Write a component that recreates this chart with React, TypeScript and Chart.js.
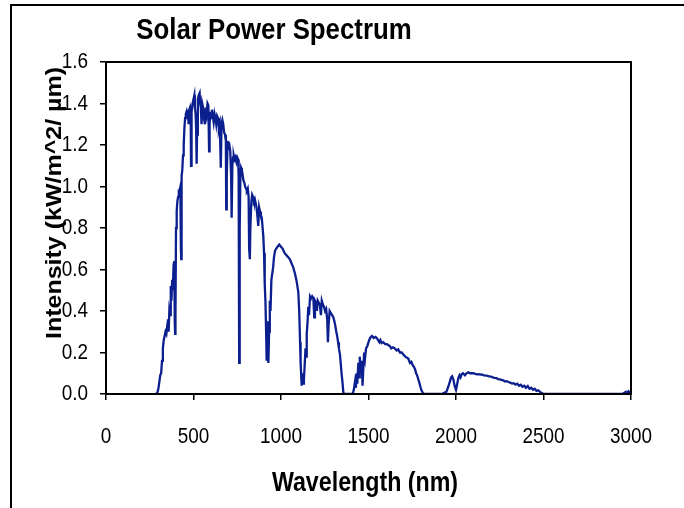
import React, { useEffect, useRef } from "react";
import { Chart, registerables } from "chart.js";

Chart.register(...registerables);

const TITLE = "Solar Power Spectrum";
const X_TITLE = "Wavelength (nm)";
const Y_TITLE = "Intensity (kW/m^2/ µm)";
const X_TICKS = [0, 500, 1000, 1500, 2000, 2500, 3000];
const Y_TICKS = [0, 0.2, 0.4, 0.6, 0.8, 1.0, 1.2, 1.4, 1.6];

const wavelength = [
  280, 290, 295, 300, 305, 310, 315, 320, 325, 330, 335, 340, 345, 350, 355, 358, 362, 366, 370, 374,
  378, 382, 386, 390, 393, 395, 397, 400, 404, 408, 412, 416, 420, 425, 428, 430, 432, 436, 440, 444,
  448, 452, 456, 460, 464, 468, 472, 476, 480, 484, 486, 488, 490, 495, 500, 505, 508, 512, 515, 518,
  520, 525, 530, 535, 538, 542, 546, 550, 555, 560, 565, 570, 575, 580, 585, 589, 592, 596, 600, 605,
  610, 615, 620, 625, 630, 635, 640, 645, 650, 656, 660, 665, 670, 675, 680, 685, 687, 690, 695, 700,
  705, 710, 715, 718, 722, 726, 730, 735, 740, 745, 750, 755, 758, 761, 763, 765, 768, 772, 776, 780,
  785, 790, 795, 800, 805, 810, 815, 818, 822, 825, 830, 835, 840, 845, 850, 855, 860, 865, 870, 875,
  880, 885, 890, 895, 899, 903, 907, 911, 915, 918, 922, 925, 928, 932, 936, 940, 945, 950, 955, 960,
  966, 972, 980, 990, 1000, 1010, 1020, 1030, 1040, 1050, 1060, 1070, 1080, 1090, 1099, 1104, 1109, 1112, 1116, 1118,
  1122, 1126, 1131, 1136, 1140, 1144, 1147, 1152, 1156, 1160, 1166, 1172, 1178, 1185, 1190, 1194, 1200, 1205, 1210, 1216,
  1222, 1228, 1233, 1240, 1246, 1252, 1258, 1264, 1268, 1272, 1278, 1285, 1292, 1299, 1305, 1310, 1316, 1321, 1326, 1331,
  1337, 1342, 1346, 1351, 1356, 1360, 1410, 1416, 1423, 1428, 1432, 1436, 1442, 1446, 1450, 1455, 1461, 1466, 1470, 1475,
  1480, 1486, 1493, 1500, 1509, 1520, 1530, 1540, 1547, 1555, 1562, 1568, 1575, 1585, 1595, 1605, 1615, 1623, 1630, 1640,
  1650, 1661, 1670, 1680, 1690, 1699, 1710, 1720, 1728, 1737, 1745, 1752, 1760, 1766, 1772, 1778, 1785, 1792, 1798, 1804,
  1814, 1920, 1930, 1945, 1956, 1965, 1972, 1978, 1985, 1992, 2000, 2006, 2013, 2020, 2026, 2032, 2040, 2051, 2060, 2070,
  2080, 2090, 2099, 2110, 2120, 2130, 2140, 2150, 2160, 2175, 2190, 2200, 2210, 2220, 2230, 2240, 2250, 2260, 2270, 2280,
  2290, 2300, 2310, 2320, 2330, 2340, 2350, 2360, 2370, 2380, 2390, 2400, 2410, 2420, 2430, 2440, 2450, 2460, 2470, 2480,
  2490, 2500, 2950, 2960, 2970, 2975, 2985, 2990, 3000,
];

const intensity = [
  0, 0, 0.01, 0.03, 0.06, 0.09, 0.1, 0.16, 0.22, 0.26, 0.28, 0.3, 0.29, 0.33, 0.36, 0.3, 0.4, 0.38, 0.52, 0.45,
  0.55, 0.5, 0.62, 0.64, 0.35, 0.29, 0.38, 0.8, 0.88, 0.93, 0.95, 0.98, 0.98, 1.0, 0.7, 0.65, 1.05, 1.08, 1.15, 1.2,
  1.28, 1.33, 1.35, 1.36, 1.33, 1.37, 1.3, 1.37, 1.38, 1.34, 1.1, 1.15, 1.36, 1.4, 1.42, 1.44, 1.38, 1.35, 1.28, 1.11,
  1.25, 1.42, 1.44, 1.45, 1.4, 1.38, 1.3, 1.4, 1.38, 1.33, 1.3, 1.38, 1.35, 1.4, 1.39, 1.17, 1.3, 1.36, 1.33, 1.37,
  1.34, 1.31, 1.35, 1.33, 1.3, 1.34, 1.33, 1.28, 1.3, 1.09, 1.3, 1.32, 1.3, 1.26, 1.25, 1.22, 0.89, 1.05, 1.22, 1.19,
  1.2, 1.17, 1.05, 0.85, 1.1, 1.14, 1.15, 1.13, 1.14, 1.12, 1.14, 1.13, 1.05, 0.15, 0.5, 0.8, 1.05, 1.09, 1.08, 1.06,
  1.03, 1.02, 1.0, 0.99, 0.98, 0.99, 0.95, 0.7, 0.65, 0.8, 0.92, 0.96, 0.95, 0.93, 0.94, 0.92, 0.9, 0.86, 0.81, 0.9,
  0.88, 0.86, 0.85, 0.8, 0.76, 0.68, 0.53, 0.45, 0.3, 0.16, 0.35, 0.2, 0.15, 0.3, 0.45, 0.4, 0.55, 0.58, 0.61, 0.66,
  0.69, 0.7, 0.71, 0.72, 0.71, 0.7, 0.68, 0.67, 0.66, 0.65, 0.63, 0.61, 0.58, 0.54, 0.49, 0.4, 0.25, 0.15, 0.08, 0.04,
  0.1, 0.05, 0.07, 0.15, 0.22, 0.18, 0.29, 0.35, 0.42, 0.38, 0.47, 0.46, 0.47, 0.46, 0.37, 0.45, 0.44, 0.4, 0.45, 0.44,
  0.43, 0.38, 0.45, 0.43, 0.42, 0.4, 0.41, 0.36, 0.25, 0.33, 0.4, 0.39, 0.38, 0.37, 0.35, 0.33, 0.3, 0.28, 0.25, 0.22,
  0.19, 0.14, 0.1, 0.06, 0.01, 0, 0, 0.02, 0.06, 0.03, 0.1, 0.05, 0.15, 0.08, 0.18, 0.1, 0.16, 0.04, 0.12, 0.2,
  0.17, 0.22, 0.23, 0.25, 0.27, 0.28, 0.27, 0.275, 0.27, 0.26, 0.25, 0.26, 0.245, 0.25, 0.24, 0.24, 0.235, 0.23, 0.22, 0.225,
  0.22, 0.21, 0.215, 0.2, 0.2, 0.19, 0.18, 0.175, 0.17, 0.15, 0.155, 0.14, 0.13, 0.12, 0.1, 0.09, 0.07, 0.05, 0.03, 0.015,
  0, 0, 0.005, 0.01, 0.035, 0.06, 0.08, 0.085, 0.07, 0.04, 0.02, 0.045, 0.075, 0.09, 0.08, 0.095, 0.1, 0.09, 0.1, 0.105,
  0.1, 0.1, 0.1, 0.097, 0.095, 0.096, 0.094, 0.093, 0.09, 0.089, 0.085, 0.084, 0.08, 0.078, 0.077, 0.072, 0.07, 0.068, 0.066, 0.06,
  0.062, 0.058, 0.055, 0.05, 0.052, 0.045, 0.05, 0.04, 0.045, 0.035, 0.04, 0.03, 0.038, 0.025, 0.03, 0.02, 0.025, 0.015, 0.018, 0.01,
  0.005, 0, 0, 0.005, 0.01, 0.003, 0.012, 0.005, 0.015,
];

const FONT = '"Liberation Sans", Arial, sans-serif';
const LINE_COLOR = "#0b1f8f";
const SQUEEZE = 0.86;

function squeezedText(ctx: any, text: string, x: number, y: number, align: string) {
  ctx.save();
  ctx.translate(x, y);
  ctx.scale(SQUEEZE, 1);
  ctx.textAlign = align;
  ctx.fillText(text, 0, 0);
  ctx.restore();
}

const decorPlugin = {
  id: "decor",
  afterDraw(chart: any) {
    const { ctx, chartArea, scales } = chart;
    ctx.save();
    // outer frame (top + left)
    ctx.strokeStyle = "#000";
    ctx.lineWidth = 2;
    ctx.beginPath();
    ctx.moveTo(11, 508);
    ctx.lineTo(11, 5);
    ctx.lineTo(684, 5);
    ctx.stroke();
    // plot box
    ctx.strokeRect(chartArea.left, chartArea.top, chartArea.right - chartArea.left, chartArea.bottom - chartArea.top);
    ctx.fillStyle = "#000";
    ctx.textBaseline = "middle";
    // tick labels
    ctx.font = `22px ${FONT}`;
    X_TICKS.forEach((v) => {
      squeezedText(ctx, String(v), scales.x.getPixelForValue(v), 437, "center");
    });
    Y_TICKS.forEach((v) => {
      squeezedText(ctx, v.toFixed(1), 88, scales.y.getPixelForValue(v), "right");
    });
    // titles
    ctx.font = `bold 30px ${FONT}`;
    squeezedText(ctx, TITLE, 274, 31, "center");
    ctx.font = `bold 27px ${FONT}`;
    squeezedText(ctx, X_TITLE, 365, 484, "center");
    ctx.translate(55, 203);
    ctx.rotate(-Math.PI / 2);
    ctx.scale(1, SQUEEZE);
    ctx.font = `bold 25px ${FONT}`;
    ctx.textAlign = "center";
    ctx.fillText(Y_TITLE, 0, 0);
    ctx.restore();
  },
};

export default function App() {
  const ref = useRef<HTMLCanvasElement | null>(null);
  useEffect(() => {
    document.body.style.margin = "0";
    const points = wavelength.map((w, i) => ({ x: w, y: intensity[i] }));
    const chart = new Chart(ref.current as HTMLCanvasElement, {
      type: "line",
      data: {
        datasets: [
          {
            data: points,
            borderColor: LINE_COLOR,
            borderWidth: 2.3,
            pointRadius: 0,
            tension: 0,
            fill: false,
          },
        ],
      },
      options: {
        animation: false,
        responsive: false,
        devicePixelRatio: 1,
        layout: { padding: { top: 62, right: 53, left: 0, bottom: 0 } },
        plugins: { legend: { display: false }, tooltip: { enabled: false }, title: { display: false } },
        scales: {
          x: {
            type: "linear",
            min: 0,
            max: 3000,
            afterBuildTicks: (axis: any) => {
              axis.ticks = X_TICKS.map((v) => ({ value: v }));
            },
            afterFit: (axis: any) => {
              axis.height = 114;
            },
            grid: { drawOnChartArea: false, drawTicks: true, tickLength: 6, color: "#000", lineWidth: 1.5 },
            border: { display: false },
            ticks: { display: false, autoSkip: false },
          },
          y: {
            type: "linear",
            min: 0,
            max: 1.6,
            afterBuildTicks: (axis: any) => {
              axis.ticks = Y_TICKS.map((v) => ({ value: v }));
            },
            afterFit: (axis: any) => {
              axis.width = 106;
            },
            grid: { drawOnChartArea: false, drawTicks: true, tickLength: 6, color: "#000", lineWidth: 1.5 },
            border: { display: false },
            ticks: { display: false, autoSkip: false },
          },
        },
      },
      plugins: [decorPlugin],
    });
    return () => chart.destroy();
  }, []);
  return <canvas ref={ref} width={684} height={508} style={{ display: "block" }} />;
}
